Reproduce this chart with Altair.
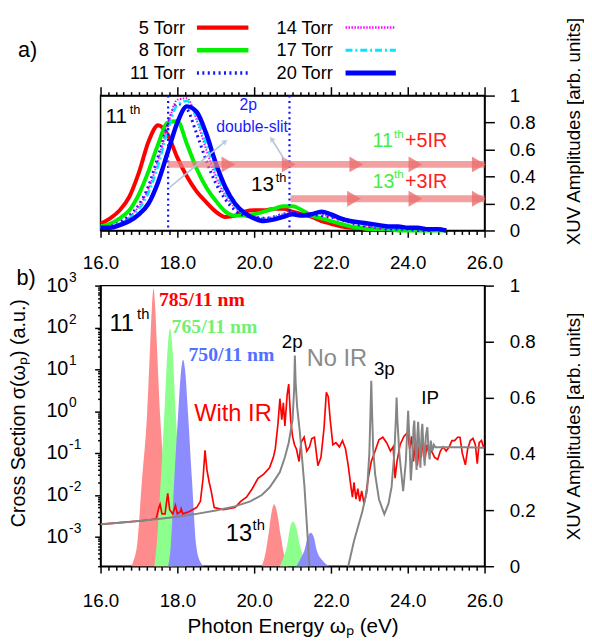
import altair as alt
import pandas as pd

# ---------------- (a) XUV spectra for six gas pressures ----------------
energy_a = [16.0, 16.25, 16.5, 16.75, 17.0, 17.25, 17.5, 17.75, 18.0, 18.25,
            18.5, 18.75, 19.0, 19.25, 19.5, 19.75, 20.0, 20.25, 20.5, 20.75,
            21.0, 21.25, 21.5, 21.75, 22.0, 22.25, 22.5, 22.75, 23.0, 23.25,
            23.5, 23.75, 24.0, 24.25, 24.5, 24.75, 25.0]
amp_5torr = [0.05, 0.09, 0.15, 0.25, 0.43, 0.66, 0.78, 0.71, 0.54, 0.40,
             0.29, 0.21, 0.14, 0.10, 0.11, 0.14, 0.15, 0.15, 0.16, 0.16,
             0.14, 0.12, 0.10, 0.07, 0.05, 0.03, 0.02, 0.02, 0.01, 0.01,
             0.01, 0.01, 0.01, 0.01, 0.01, 0.01, 0.0]
amp_8torr = [0.03, 0.05, 0.09, 0.15, 0.27, 0.44, 0.64, 0.80, 0.81, 0.64,
             0.46, 0.32, 0.22, 0.14, 0.11, 0.11, 0.12, 0.14, 0.16, 0.18,
             0.18, 0.15, 0.11, 0.09, 0.07, 0.05, 0.03, 0.02, 0.01, 0.01,
             0.01, 0.0, 0.0, 0.0, 0.0, 0.0, 0.0]
amp_11torr = [0.02, 0.03, 0.06, 0.11, 0.19, 0.33, 0.55, 0.78, 0.94, 0.90,
              0.72, 0.52, 0.35, 0.23, 0.15, 0.11, 0.10, 0.09, 0.10, 0.12,
              0.13, 0.12, 0.12, 0.11, 0.10, 0.08, 0.06, 0.04, 0.03, 0.02,
              0.01, 0.01, 0.01, 0.0, 0.0, 0.0, 0.0]
amp_14torr = [0.02, 0.03, 0.05, 0.10, 0.18, 0.31, 0.52, 0.78, 0.97, 0.98,
              0.82, 0.60, 0.40, 0.26, 0.17, 0.12, 0.10, 0.09, 0.10, 0.12,
              0.13, 0.12, 0.13, 0.12, 0.10, 0.08, 0.06, 0.05, 0.03, 0.02,
              0.02, 0.01, 0.01, 0.01, 0.0, 0.0, 0.0]
amp_17torr = [0.02, 0.03, 0.05, 0.09, 0.16, 0.28, 0.48, 0.74, 0.93, 0.96,
              0.84, 0.64, 0.44, 0.28, 0.18, 0.12, 0.09, 0.08, 0.09, 0.11,
              0.12, 0.11, 0.12, 0.13, 0.11, 0.09, 0.07, 0.05, 0.04, 0.03,
              0.02, 0.02, 0.01, 0.01, 0.01, 0.0, 0.0]
amp_20torr = [0.02, 0.02, 0.04, 0.07, 0.12, 0.20, 0.36, 0.58, 0.80, 0.92,
              0.88, 0.72, 0.50, 0.32, 0.20, 0.13, 0.09, 0.07, 0.08, 0.10,
              0.12, 0.11, 0.12, 0.14, 0.12, 0.09, 0.07, 0.06, 0.05, 0.04,
              0.03, 0.03, 0.02, 0.02, 0.01, 0.01, 0.0]

pressure_labels = ["5 Torr", "8 Torr", "11 Torr", "14 Torr", "17 Torr", "20 Torr"]
pressure_amps = [amp_5torr, amp_8torr, amp_11torr, amp_14torr, amp_17torr, amp_20torr]
pressure_colors = ["#ff0000", "#00f000", "#1414ff", "#ff00ff", "#00e8ff", "#0000ff"]
pressure_dash = [None, None, [2, 3.5], [1.5, 1.5], [7, 3, 2, 3], None]
pressure_width = [4, 4, 3, 2, 2.5, 4.5]

# legend placement (data coordinates of panel a, above the frame)
legend_text_E = [18.2, 18.2, 18.2, 22.05, 22.05, 22.05]
legend_row_amp = [1.504, 1.336, 1.168, 1.504, 1.336, 1.168]
legend_line_E0 = [18.51, 18.51, 18.51, 22.38, 22.38, 22.38]
legend_line_E1 = [19.85, 19.85, 19.85, 23.69, 23.69, 23.69]

# 2p double-slit markers and IR photon ladders
slit_E = [17.76, 20.92]
ladder_amp = [0.49, 0.235]
ladder_start = [17.75, 20.95]
ladder_end = [26.0, 26.0]
ladder_head_E = [19.33, 20.9, 22.66, 24.2, 25.85, 22.6, 24.2, 25.85]
ladder_head_amp = [0.49, 0.49, 0.49, 0.49, 0.49, 0.235, 0.235, 0.235]
guide_E = [17.8, 19.25, 20.8, 20.45]
guide_amp = [0.32, 0.66, 0.52, 0.68]
guide_id = [1, 1, 2, 2]
guide_head_angle = [50, 326]

ann_a_text = ["11", "th", "13", "th", "2p", "double-slit",
              "11", "th", "+5IR", "13", "th", "+3IR", "a)"]
ann_a_E = [16.13, 16.76, 19.92, 20.56, 19.62, 19.01,
           23.08, 23.64, 23.93, 23.08, 23.64, 23.93, 13.85]
ann_a_amp = [0.84, 0.89, 0.34, 0.39, 0.93, 0.77,
             0.66, 0.715, 0.66, 0.36, 0.415, 0.36, 1.336]
ann_a_size = [21, 13, 21, 13, 16, 16, 20, 12, 20, 20, 12, 20, 22]
ann_a_color = ["black", "black", "black", "black", "#1a1aff", "#1a1aff",
               "#44ee44", "#44ee44", "#ff2020", "#44ee44", "#44ee44", "#ff2020", "black"]

# ---------------- (b) cross sections and harmonic spectra ----------------
noir_E = [16.0, 16.5, 17.0, 17.5, 18.0, 18.5, 19.0, 19.5, 19.9, 20.2, 20.4, 20.55,
          20.67, 20.8, 20.9, 21.0, 21.04, 21.06, 21.08, 21.12, 21.19, 21.31, 21.44,
          21.5, 22.4, 22.45, 22.6, 22.81, 22.94, 23.0, 23.03, 23.05, 23.07, 23.1,
          23.15, 23.25, 23.39, 23.5, 23.58, 23.65, 23.69, 23.71, 23.73, 23.78, 23.88,
          23.95, 23.99, 24.01, 24.04, 24.08, 24.12, 24.15, 24.17, 24.2, 24.23, 24.25,
          24.27, 24.3, 24.33, 24.36, 24.38, 24.41, 24.44, 24.47, 24.51, 24.54, 24.57,
          24.6, 24.64, 24.68, 24.72, 25.0, 25.5, 26.0]
noir_log = [-2.70, -2.66, -2.62, -2.57, -2.52, -2.45, -2.37, -2.27, -2.15, -2.0, -1.82, -1.62,
            -1.45, -1.1, -0.75, -0.2, 0.5, 1.33, 0.7, 0.1, -0.5, -1.8, -3.7,
            -5.0, -5.0, -3.7, -3.1, -2.42, -1.9, -1.0, 0.0, 0.73, 0.0, -0.9,
            -1.5, -2.1, -2.46, -2.2, -1.8, -1.0, -0.2, 0.33, -0.2, -1.0, -1.91,
            -1.2, -0.4, 0.01, -0.6, -1.65, -1.1, -0.4, -0.22, -0.9, -1.4, -0.6,
            -0.25, -0.8, -1.35, -0.5, -0.3, -0.9, -1.3, -0.6, -0.38, -0.9, -1.15,
            -0.7, -0.95, -0.8, -0.86, -0.86, -0.86, -0.87]

withir_E = [16.0, 16.5, 17.0, 17.3, 17.45, 17.52, 17.55, 17.6, 17.68, 17.72, 17.75, 17.8,
            17.88, 17.95, 18.0, 18.08, 18.1, 18.14, 18.3, 18.5, 18.6, 18.67, 18.72, 18.77,
            18.83, 18.88, 18.96, 19.2, 19.5, 19.65, 19.8, 19.95, 20.1, 20.25, 20.4, 20.5,
            20.55, 20.62, 20.67, 20.72, 20.76, 20.8, 20.86, 20.9, 20.95, 21.0, 21.05, 21.1,
            21.17, 21.22, 21.3, 21.37, 21.44, 21.5, 21.57, 21.66, 21.74, 21.82, 21.88, 21.93,
            21.98, 22.05, 22.13, 22.22, 22.3, 22.38, 22.45, 22.52, 22.56, 22.6, 22.65, 22.7,
            22.75, 22.8, 22.86, 22.9, 22.97, 23.05, 23.15, 23.25, 23.35, 23.45, 23.55, 23.62,
            23.67, 23.72, 23.8, 23.9, 24.0, 24.05, 24.1, 24.15, 24.2, 24.25, 24.3, 24.35,
            24.4, 24.45, 24.5, 24.55, 24.62, 24.7, 24.78, 24.85, 24.92, 25.0, 25.08, 25.15,
            25.22, 25.3, 25.36, 25.42, 25.5, 25.56, 25.63, 25.7, 25.76, 25.81, 25.86, 25.92,
            25.97, 26.0]
withir_log = [-2.70, -2.66, -2.62, -2.59, -2.56, -2.3, -2.22, -2.45, -2.45, -2.15, -1.96, -2.35,
              -2.45, -2.25, -2.45, -2.40, -2.33, -2.45, -2.40, -2.30, -2.15, -1.6, -0.93, -1.4,
              -1.7, -1.9, -2.3, -2.35, -2.3, -2.15, -2.05, -1.85, -1.6, -1.5, -1.35, -1.1,
              -0.9, -0.3, 0.3, -0.2, 0.2, -0.35, 0.4, 0.65, -0.2, -0.6, -0.8, -0.9,
              -1.2, -0.75, -0.62, -0.95, -0.85, -0.65, -0.62, -1.3, -1.1, -0.4, 0.45, 0.35,
              -0.2, -0.8, -0.75, -0.85, -0.7, -0.9, -1.3, -1.8, -2.05, -1.7, -2.1, -1.85,
              -2.15, -1.9, -2.2, -2.05, -1.6, -1.2, -0.95, -0.68, -0.62, -0.75, -0.95, -0.85,
              -1.6, -1.2, -0.8, -0.6, -0.5, -0.9, -0.6, -1.2, -0.7, -1.3, -0.8, -1.1,
              -0.7, -1.15, -0.8, -1.0, -0.95, -1.1, -1.15, -0.95, -0.85, -0.95, -0.85, -0.7,
              -0.7, -0.62, -0.62, -1.0, -1.28, -0.9, -0.7, -0.65, -0.8, -1.25, -0.75, -0.7,
              -0.85, -0.8]

# harmonic spectra (right axis), one list pair per peak
h11_785_E = [16.80, 16.86, 16.95, 17.08, 17.21, 17.29, 17.34, 17.38, 17.42, 17.47, 17.55, 17.68, 17.81, 17.90]
h11_785_A = [0.0, 0.02, 0.075, 0.31, 0.54, 0.78, 0.93, 0.99, 0.93, 0.78, 0.54, 0.31, 0.075, 0.0]
h11_765_E = [17.40, 17.46, 17.57, 17.66, 17.75, 17.81, 17.87, 17.96, 18.05, 18.16, 18.22]
h11_765_A = [0.0, 0.075, 0.31, 0.54, 0.78, 0.847, 0.78, 0.54, 0.31, 0.075, 0.0]
h11_750_E = [17.76, 17.83, 17.92, 18.02, 18.10, 18.15, 18.20, 18.28, 18.38, 18.49, 18.60, 18.70]
h11_750_A = [0.0, 0.075, 0.31, 0.54, 0.70, 0.736, 0.70, 0.54, 0.31, 0.075, 0.015, 0.0]
h13_785_E = [20.20, 20.30, 20.37, 20.45, 20.52, 20.60, 20.69, 20.78, 20.88]
h13_785_A = [0.0, 0.05, 0.11, 0.19, 0.221, 0.19, 0.11, 0.04, 0.0]
h13_765_E = [20.67, 20.76, 20.86, 20.94, 21.01, 21.09, 21.19, 21.29, 21.39]
h13_765_A = [0.0, 0.03, 0.075, 0.14, 0.159, 0.14, 0.075, 0.03, 0.0]
h13_750_E = [21.10, 21.20, 21.31, 21.40, 21.47, 21.55, 21.63, 21.78, 21.96]
h13_750_A = [0.0, 0.025, 0.057, 0.105, 0.119, 0.105, 0.057, 0.02, 0.0]
fill_colors = ["#ff8c8c", "#8cff8c", "#8c8cff"]

ann_b_text = ["b)", "11", "th", "2p", "No IR", "3p", "IP", "With IR", "13", "th"]
ann_b_E = [13.81, 16.23, 16.95, 20.72, 21.37, 23.12, 24.35, 18.44, 19.26, 19.96]
ann_b_log = [3.19, 2.08, 2.33, 1.66, 1.24, 1.0, 0.32, -0.06, -2.93, -2.72]
ann_b_size = [22, 24, 15, 19, 24, 19, 19, 24, 24, 15]
ann_b_color = ["black", "black", "black", "black", "#8a8a8a", "black", "black",
               "#ff0000", "black", "black"]
nm_text = ["785/11 nm", "765/11 nm", "750/11 nm"]
nm_E = [17.52, 17.85, 18.29]
nm_log = [2.65, 2.01, 1.35]
nm_color = ["#ff0000", "#70f070", "#5070ff"]

decade_exp = [3, 2, 1, 0, -1, -2, -3]
decade_exp_text = ["3", "2", "1", "0", "-1", "-2", "-3"]

# ---------------- scales / axes ----------------
W, HA, HB = 390, 137, 285
FONT = "Liberation Sans"
xs = alt.Scale(domain=[16, 26], nice=False, zero=False)
ya = alt.Scale(domain=[0, 1], nice=False, zero=False)
yr = alt.Scale(domain=[0, 1], nice=False, zero=False)
yl = alt.Scale(type="log", domain=[10 ** -3.7, 1000], nice=False)

x_ticks = [round(16 + 0.2 * i, 1) for i in range(51)]
x_major = [16, 18, 20, 22, 24, 26]
amp_ticks = [0, 0.2, 0.4, 0.6, 0.8, 1]
log_ticks = [m * 10.0 ** k for k in range(-4, 3) for m in range(1, 10)
             if m * 10.0 ** k >= 1.99e-4] + [1000.0]
EVEN = "abs(datum.value - 2 * round(datum.value / 2)) < 0.01"
DECADE = "abs(log(datum.value) / LN10 - round(log(datum.value) / LN10)) < 0.01"
AMP_LABEL = "datum.value == 0 ? '0' : (datum.value == 1 ? '1' : format(datum.value, '.1f'))"


def cond(test, major, minor):
    return {"condition": {"test": test, "value": major}, "value": minor}


def X(field="E", axis=None):
    return alt.X(f"{field}:Q", scale=xs, axis=axis)


def text_layer(df, yscale, **kw):
    props = dict(font=FONT, align="left", baseline="middle")
    props.update(kw)
    return alt.Chart(df).mark_text(**props).encode(
        x=X(),
        y=alt.Y("v:Q", scale=yscale, axis=None),
        text=alt.Text("t:N"),
        color=alt.Color("c:N", scale=None),
        size=alt.Size("s:Q", scale=None),
    )


# ---------------- panel a ----------------
layers_a = []
for i, (lab, amps) in enumerate(zip(pressure_labels, pressure_amps)):
    df = pd.DataFrame({"E": energy_a, "amp": amps})
    kw = dict(color=pressure_colors[i], strokeWidth=pressure_width[i], interpolate="monotone")
    if pressure_dash[i] is not None:
        kw["strokeDash"] = pressure_dash[i]
    if i == 0:
        xax = alt.Axis(orient="bottom", values=x_ticks, labels=False, title=None,
                       tickSize=cond(EVEN, 7, 4), grid=False)
        yax = alt.Axis(orient="right", values=amp_ticks, labelExpr=AMP_LABEL, tickSize=10,
                       labelPadding=15, grid=False, title="XUV Amplitudes [arb. units]",
                       titleAngle=270, titleX=90, titleY=36, titleBaseline="middle",
                       titleAlign="center", titleFontSize=19)
    else:
        xax, yax = None, None
    layers_a.append(alt.Chart(df).mark_line(**kw).encode(
        x=X(axis=xax), y=alt.Y("amp:Q", scale=ya, axis=yax)))
    leg = pd.DataFrame({"E0": [legend_line_E0[i]], "E1": [legend_line_E1[i]],
                        "v": [legend_row_amp[i]]})
    rkw = dict(color=pressure_colors[i], strokeWidth=pressure_width[i] + 0.5)
    if pressure_dash[i] is not None:
        rkw["strokeDash"] = pressure_dash[i]
    layers_a.append(alt.Chart(leg).mark_rule(**rkw).encode(
        x=X("E0"), x2="E1:Q", y=alt.Y("v:Q", scale=ya, axis=None)))

slit_df = pd.DataFrame({"E": slit_E})
layers_a.append(alt.Chart(slit_df).mark_rule(color="#1010ff", strokeWidth=2.2,
                                             strokeDash=[2, 3.5]).encode(
    x=X(axis=alt.Axis(orient="top", values=x_ticks, labels=False, title=None,
                      tickSize=cond(EVEN, 9, 4), grid=False))))

ladder_df = pd.DataFrame({"E0": ladder_start, "E1": ladder_end, "v": ladder_amp})
layers_a.append(alt.Chart(ladder_df).mark_rule(color="#ef7b7b", strokeWidth=7, opacity=0.72).encode(
    x=X("E0"), x2="E1:Q", y=alt.Y("v:Q", scale=ya, axis=None)))
heads_df = pd.DataFrame({"E": ladder_head_E, "v": ladder_head_amp})
layers_a.append(alt.Chart(heads_df).mark_point(shape="triangle-right", filled=True, size=260,
                                               color="#ec6f6f", opacity=0.8).encode(
    x=X(), y=alt.Y("v:Q", scale=ya, axis=None)))

guide_df = pd.DataFrame({"E": guide_E, "v": guide_amp, "id": guide_id})
layers_a.append(alt.Chart(guide_df).mark_line(color="#b4c6dc", strokeWidth=1.6).encode(
    x=X(), y=alt.Y("v:Q", scale=ya, axis=None), detail="id:N"))
ghead_df = pd.DataFrame({"E": [guide_E[1], guide_E[3]], "v": [guide_amp[1], guide_amp[3]],
                         "ang": guide_head_angle})
layers_a.append(alt.Chart(ghead_df).mark_point(shape="triangle-up", filled=True, size=45,
                                               color="#b4c6dc").encode(
    x=X(), y=alt.Y("v:Q", scale=ya, axis=None), angle=alt.Angle("ang:Q", scale=None)))

ann_a = pd.DataFrame({"E": ann_a_E, "v": ann_a_amp, "t": ann_a_text,
                      "c": ann_a_color, "s": ann_a_size})
layers_a.append(text_layer(ann_a, ya))
leg_txt = pd.DataFrame({"E": legend_text_E, "v": legend_row_amp, "t": pressure_labels,
                        "c": ["black"] * 6, "s": [18.5] * 6})
layers_a.append(text_layer(leg_txt, ya, align="right"))

panel_a = alt.layer(*layers_a).resolve_axis(x="independent", y="independent").properties(
    width=W, height=HA)

# ---------------- panel b ----------------
layers_b = []
peaks = [("h11_785", h11_785_E, h11_785_A, 0), ("h13_785", h13_785_E, h13_785_A, 0),
         ("h11_765", h11_765_E, h11_765_A, 1), ("h13_765", h13_765_E, h13_765_A, 1),
         ("h11_750", h11_750_E, h11_750_A, 2), ("h13_750", h13_750_E, h13_750_A, 2)]
for ci in range(3):
    rows = []
    for name, es, amps, c in peaks:
        if c == ci:
            rows += [{"E": e, "amp": a, "peak": name} for e, a in zip(es, amps)]
    df = pd.DataFrame(rows)
    if ci == 0:
        xax = alt.Axis(orient="bottom", values=x_ticks, title="Photon Energy ωₚ (eV)",
                       labelExpr=f"({EVEN}) ? format(datum.value, '.1f') : ''",
                       labelOverlap=False, labelFlush=False, labelPadding=19,
                       tickSize=cond(EVEN, 7, 4), grid=False,
                       titleY=61, titleX=W / 2, titleBaseline="middle", titleFontSize=21)
        yax = alt.Axis(orient="right", values=amp_ticks, labelExpr=AMP_LABEL, tickSize=9,
                       labelPadding=16, grid=False, title="XUV Amplitudes [arb. units]",
                       titleAngle=270, titleX=90, titleY=HB / 2, titleBaseline="middle",
                       titleAlign="center", titleFontSize=19)
    else:
        xax, yax = None, None
    layers_b.append(alt.Chart(df).mark_area(color=fill_colors[ci], interpolate="monotone",
                                            opacity=1).encode(
        x=X(axis=xax), y=alt.Y("amp:Q", scale=yr, axis=yax, stack=None), detail="peak:N"))

withir_df = pd.DataFrame({"E": withir_E, "v": [10 ** l for l in withir_log]})
layers_b.append(alt.Chart(withir_df).mark_line(color="#ff0000", strokeWidth=1.7, clip=True).encode(
    x=X(axis=alt.Axis(orient="top", values=x_major, format=".1f", ticks=False, tickSize=0,
                      domain=False, labelPadding=13, labelFlush=False, title=None, grid=False)),
    y=alt.Y("v:Q", scale=yl, axis=alt.Axis(
        orient="left", values=log_ticks, labels=False, tickSize=cond(DECADE, 6, 3), grid=False,
        title="Cross Section σ(ωₚ) (a.u.)", titleX=-83, titleY=129, titleBaseline="middle",
        titleAlign="center", titleFontSize=20))))
noir_df = pd.DataFrame({"E": noir_E, "v": [10 ** l for l in noir_log]})
layers_b.append(alt.Chart(noir_df).mark_line(color="#858585", strokeWidth=2, clip=True).encode(
    x=X(), y=alt.Y("v:Q", scale=yl, axis=None)))

ann_b = pd.DataFrame({"E": ann_b_E, "v": [10 ** l for l in ann_b_log], "t": ann_b_text,
                      "c": ann_b_color, "s": ann_b_size})
layers_b.append(text_layer(ann_b, yl))
nm_df = pd.DataFrame({"E": nm_E, "v": [10 ** l for l in nm_log], "t": nm_text,
                      "c": nm_color, "s": [20] * 3})
layers_b.append(text_layer(nm_df, yl, font="Liberation Serif", fontWeight="bold"))
dec_df = pd.DataFrame({"E": [16] * 7, "v": [10.0 ** e for e in decade_exp], "t": ["10"] * 7,
                       "c": ["black"] * 7, "s": [20] * 7})
layers_b.append(text_layer(dec_df, yl, dx=-55))
exp_df = pd.DataFrame({"E": [16] * 7, "v": [10.0 ** e for e in decade_exp], "t": decade_exp_text,
                       "c": ["black"] * 7, "s": [14] * 7})
layers_b.append(text_layer(exp_df, yl, dx=-32, dy=-8))

panel_b = alt.layer(*layers_b).resolve_scale(y="independent").resolve_axis(
    x="independent", y="independent").properties(width=W, height=HB)

chart = alt.vconcat(panel_a, panel_b, spacing=56, bounds="flush").properties(
    padding={"left": 0, "right": 0, "top": 3, "bottom": 0}
).configure_view(stroke="black", strokeWidth=1.5).configure_axis(
    domainColor="black", domainWidth=1.5, tickColor="black", tickWidth=1.5,
    labelColor="black", titleColor="black", labelFont=FONT, titleFont=FONT,
    labelFontSize=19, titleFontWeight="normal")

chart.save("out.html", embed_options={"renderer": "svg", "actions": False})
